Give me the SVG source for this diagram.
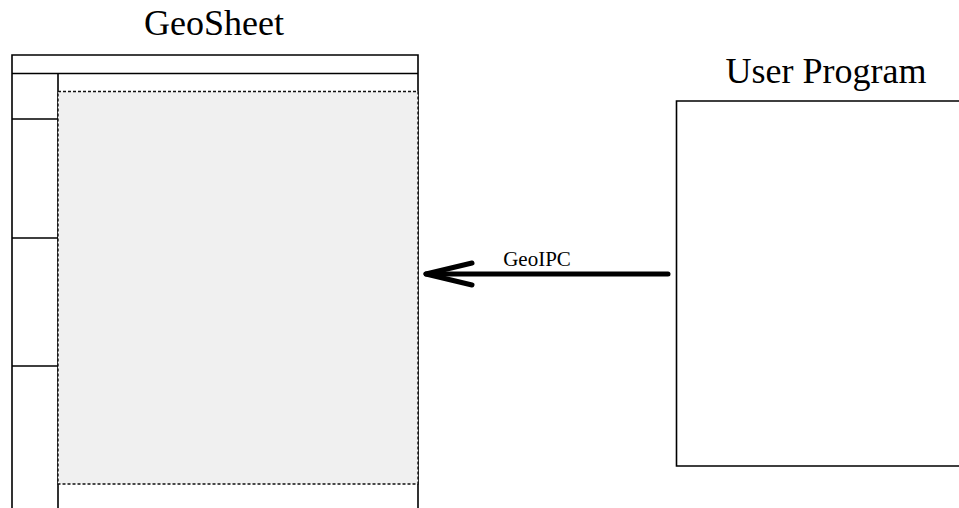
<svg xmlns="http://www.w3.org/2000/svg" width="959" height="508" viewBox="0 0 959 508">
<style>
.t{font-family:"Liberation Serif","Times New Roman",serif;fill:#000}
.ln{stroke:#000;stroke-width:1.6;fill:none}
.cell{fill:#f0f0f0;stroke:#111;stroke-width:1.4;stroke-dasharray:3 2}
.arr{stroke:#000;stroke-width:5;stroke-linecap:round;stroke-linejoin:round;fill:none}
</style>
<rect width="959" height="508" fill="#fff"/>
<g id="geosheet">
<text class="t" x="214" y="35" font-size="36" text-anchor="middle">GeoSheet</text>
<path class="ln" d="M12,508 V55 H418 V508 M12,73.5 H418 M58,73.5 V508 M12,119 H58 M12,238 H58 M12,366 H58"/>
<rect class="cell" x="58" y="91.5" width="360" height="392.5"/>
</g>
<g id="userprogram">
<text class="t" x="826" y="83" font-size="36" text-anchor="middle">User Program</text>
<path class="ln" d="M962,101 H676.5 V466 H962"/>
</g>
<g id="connectors">
<path class="arr" d="M668,274 H426"/>
<path class="arr" d="M472,263 L426,274 L472,285"/>
<text class="t" x="537" y="265.5" font-size="21" text-anchor="middle">GeoIPC</text>
</g>
</svg>
